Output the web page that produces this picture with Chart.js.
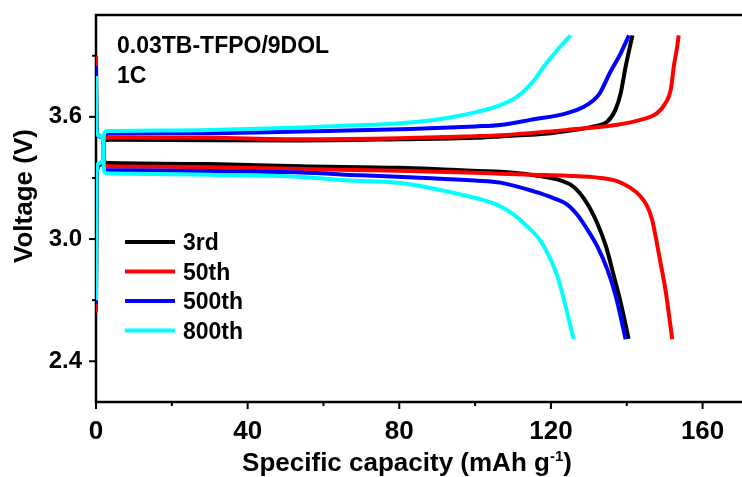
<!DOCTYPE html>
<html>
<head>
<meta charset="utf-8">
<script src="https://cdn.jsdelivr.net/npm/chart.js@4.4.1/dist/chart.umd.min.js"></script>
<style>
  html, body { margin: 0; padding: 0; background: #fff; }
  #wrap { width: 742px; height: 477px; }
</style>
</head>
<body>
<div id="wrap"><canvas id="voltageCanvas" width="742" height="477"></canvas></div>
<script>
const cycleLabels = ['3rd', '50th', '500th', '800th'];
const cycleColors = ['#000000', '#ff0000', '#0000ff', '#00ffff'];

// [capacity (mAh/g), voltage (V)]
const charge3rd = [[0, 2.66], [0.15, 3.30], [0.6, 3.36], [1.6, 3.37], [1.9, 3.38], [2.0, 3.44], [2.3, 3.483],
  [3.5, 3.488], [30, 3.485], [54, 3.484], [80, 3.49], [100, 3.497], [106.7, 3.504], [120, 3.52], [126, 3.535],
  [131.3, 3.553], [134.9, 3.577], [137, 3.634], [138.4, 3.716], [139.7, 3.846], [141.5, 4.0]];
const discharge3rd = [[0, 3.88], [0.1, 3.56], [0.5, 3.51], [1.6, 3.50], [1.9, 3.49], [2.0, 3.42], [2.3, 3.378],
  [3.5, 3.373], [30, 3.368], [54, 3.357], [80, 3.35], [93.5, 3.34], [106.7, 3.33], [112, 3.322], [116, 3.312],
  [119.9, 3.30], [122.7, 3.287], [125.2, 3.267], [127.6, 3.226], [130, 3.161], [132.2, 3.079], [134.5, 2.965],
  [136.6, 2.818], [138.4, 2.688], [140.5, 2.51]];

const charge50th = [[0, 2.64], [0.15, 3.30], [0.6, 3.36], [1.6, 3.37], [1.9, 3.38], [2.0, 3.45], [2.3, 3.495],
  [3.5, 3.499], [30, 3.497], [54, 3.49], [80, 3.495], [100, 3.505], [106.7, 3.51], [124.3, 3.536], [137.5, 3.561],
  [143.6, 3.585], [148, 3.618], [150.2, 3.667], [151.6, 3.732], [152.4, 3.846], [153.3, 3.944], [153.7, 4.0]];
const discharge50th = [[0, 3.90], [0.1, 3.56], [0.5, 3.51], [1.6, 3.50], [1.9, 3.49], [2.0, 3.41], [2.3, 3.362],
  [3.5, 3.357], [30, 3.353], [54, 3.344], [80, 3.335], [100, 3.325], [106.7, 3.321], [115.4, 3.316], [124.3, 3.311],
  [133.1, 3.30], [137.6, 3.283], [141, 3.251], [143.6, 3.21], [145.4, 3.161], [146.7, 3.095], [147.6, 3.014],
  [148.9, 2.884], [150.2, 2.753], [152.0, 2.508]];

const charge500th = [[0, 2.68], [0.15, 3.30], [0.6, 3.36], [1.6, 3.37], [1.9, 3.385], [2.0, 3.46], [2.3, 3.513],
  [3.5, 3.518], [30, 3.52], [54, 3.528], [83, 3.54], [100, 3.553], [106.7, 3.56], [114.6, 3.585], [124.3, 3.618],
  [128.7, 3.65], [131.3, 3.683], [132.9, 3.716], [135.5, 3.814], [138.4, 3.912], [140.6, 4.0]];
const discharge500th = [[0, 3.85], [0.1, 3.56], [0.5, 3.51], [1.6, 3.50], [1.9, 3.49], [2.0, 3.40], [2.3, 3.342],
  [3.5, 3.338], [30, 3.334], [54, 3.327], [70, 3.313], [88.4, 3.299], [100, 3.287], [106.7, 3.277], [115.5, 3.234],
  [120.8, 3.20], [124.3, 3.169], [126.9, 3.12], [129.6, 3.047], [132.2, 2.965], [134.9, 2.85], [137.1, 2.72],
  [139.7, 2.508]];

const charge800th = [[0, 2.70], [0.15, 3.32], [0.6, 3.37], [1.6, 3.38], [1.9, 3.39], [2.0, 3.48], [2.3, 3.525],
  [3.5, 3.53], [30, 3.535], [54, 3.548], [67, 3.557], [80.4, 3.569], [89, 3.585], [95, 3.603], [100, 3.622],
  [104, 3.641], [107.5, 3.664], [110.5, 3.692], [113, 3.728], [115.5, 3.778], [118.1, 3.846], [121.7, 3.928],
  [125.2, 4.0]];
const discharge800th = [[0, 3.80], [0.1, 3.55], [0.5, 3.51], [1.6, 3.50], [1.9, 3.49], [2.0, 3.39], [2.3, 3.327],
  [3.5, 3.322], [30, 3.316], [54, 3.305], [67.2, 3.287], [80.4, 3.275], [96.4, 3.218], [104.3, 3.179], [106.7, 3.16],
  [110.2, 3.12], [113.7, 3.063], [117.3, 2.99], [119.9, 2.90], [121.7, 2.818], [123.4, 2.704], [126, 2.508]];

const chargeCurves = [charge3rd, charge50th, charge500th, charge800th];
const dischargeCurves = [discharge3rd, discharge50th, discharge500th, discharge800th];

const xTicks = [0, 40, 80, 120, 160];
const xTickLabels = ['0', '40', '80', '120', '160'];
const xMinorTicks = [20, 60, 100, 140];
const yTicks = [2.4, 3.0, 3.6];
const yTickLabels = ['2.4', '3.0', '3.6'];
const yMinorTicks = [2.7, 3.3, 3.9];

const fontFamily = '"Liberation Sans", Arial, sans-serif';

const toPoints = arr => arr.map(([x, y]) => ({ x, y }));

const datasets = [];
cycleLabels.forEach((label, i) => {
  [chargeCurves[i], dischargeCurves[i]].forEach(curve => {
    datasets.push({
      label: label,
      data: toPoints(curve),
      borderColor: cycleColors[i],
      borderWidth: 4,
      pointRadius: 0,
      fill: false,
      cubicInterpolationMode: 'monotone',
      order: 3 - i
    });
  });
});

function line(ctx, x1, y1, x2, y2) {
  ctx.beginPath();
  ctx.moveTo(x1, y1);
  ctx.lineTo(x2, y2);
  ctx.stroke();
}

const framePlugin = {
  id: 'frame',
  beforeDatasetsDraw(chart) {
    const { ctx, chartArea: { left, top, right, bottom }, scales: { x, y } } = chart;
    ctx.save();
    ctx.strokeStyle = '#000';
    ctx.lineWidth = 2.5;
    ctx.beginPath();
    ctx.moveTo(right, top);
    ctx.lineTo(left, top);
    ctx.lineTo(left, bottom);
    ctx.lineTo(right, bottom);
    ctx.stroke();
    ctx.lineWidth = 2;
    xTicks.forEach(v => { const px = x.getPixelForValue(v); line(ctx, px, bottom, px, bottom + 7); });
    xMinorTicks.forEach(v => { const px = x.getPixelForValue(v); line(ctx, px, bottom, px, bottom + 4); });
    yTicks.forEach(v => { const py = y.getPixelForValue(v); line(ctx, left, py, left - 7, py); });
    yMinorTicks.forEach(v => { const py = y.getPixelForValue(v); line(ctx, left, py, left - 4, py); });
    ctx.restore();
  }
};

const textPlugin = {
  id: 'texts',
  afterDraw(chart) {
    const { ctx } = chart;
    ctx.save();
    ctx.fillStyle = '#000';
    ctx.textBaseline = 'alphabetic';
    ctx.textAlign = 'left';

    // sample annotation
    ctx.font = 'bold 23px ' + fontFamily;
    ctx.fillText('0.03TB-TFPO/9DOL', 117, 53);
    ctx.fillText('1C', 117, 83);

    // legend
    cycleLabels.forEach((label, i) => {
      const cy = 242 + i * 29.5;
      ctx.strokeStyle = cycleColors[i];
      ctx.lineWidth = 4;
      line(ctx, 125, cy, 175, cy);
      ctx.fillStyle = '#000';
      ctx.fillText(label, 183, cy + 8);
    });

    // x axis title with superscript
    const main = 'Specific capacity (mAh g';
    ctx.font = 'bold 26px ' + fontFamily;
    const wMain = ctx.measureText(main).width;
    const wEnd = ctx.measureText(')').width;
    ctx.font = 'bold 15px ' + fontFamily;
    const wSup = ctx.measureText('-1').width;
    let tx = 407 - (wMain + wSup + wEnd) / 2;
    const base = 471;
    ctx.font = 'bold 26px ' + fontFamily;
    ctx.fillText(main, tx, base);
    tx += wMain;
    ctx.font = 'bold 15px ' + fontFamily;
    ctx.fillText('-1', tx, base - 10);
    tx += wSup;
    ctx.font = 'bold 26px ' + fontFamily;
    ctx.fillText(')', tx, base);

    // y axis title
    ctx.translate(32, 196);
    ctx.rotate(-Math.PI / 2);
    ctx.textAlign = 'center';
    ctx.fillText('Voltage (V)', 0, 0);
    ctx.restore();
  }
};

const voltageChart = new Chart(document.getElementById('voltageCanvas'), {
  type: 'line',
  data: { datasets },
  options: {
    responsive: false,
    animation: false,
    devicePixelRatio: 1,
    layout: { padding: { top: 15, right: 0, left: 0, bottom: 0 } },
    plugins: { legend: { display: false }, tooltip: { enabled: false } },
    scales: {
      x: {
        type: 'linear',
        min: 0,
        max: 170.4,
        grid: { display: false, drawTicks: false },
        border: { display: false },
        afterFit: scale => {
          scale.height = 75;
          scale.paddingLeft = 0;
          scale.paddingRight = 0;
        },
        afterBuildTicks: scale => { scale.ticks = xTicks.map(v => ({ value: v })); },
        ticks: {
          padding: 14,
          color: '#000',
          maxRotation: 0,
          font: { family: fontFamily, size: 26, weight: 'bold' },
          callback: (v) => xTickLabels[xTicks.indexOf(v)]
        }
      },
      y: {
        type: 'linear',
        min: 2.2,
        max: 4.1,
        grid: { display: false, drawTicks: false },
        border: { display: false },
        afterFit: scale => {
          scale.width = 96;
          scale.paddingTop = 0;
          scale.paddingBottom = 0;
        },
        afterBuildTicks: scale => { scale.ticks = yTicks.map(v => ({ value: v })); },
        ticks: {
          padding: 14,
          color: '#000',
          font: { family: fontFamily, size: 24, weight: 'bold' },
          callback: (v) => yTickLabels[yTicks.indexOf(v)]
        }
      }
    }
  },
  plugins: [framePlugin, textPlugin]
});
</script>
</body>
</html>
